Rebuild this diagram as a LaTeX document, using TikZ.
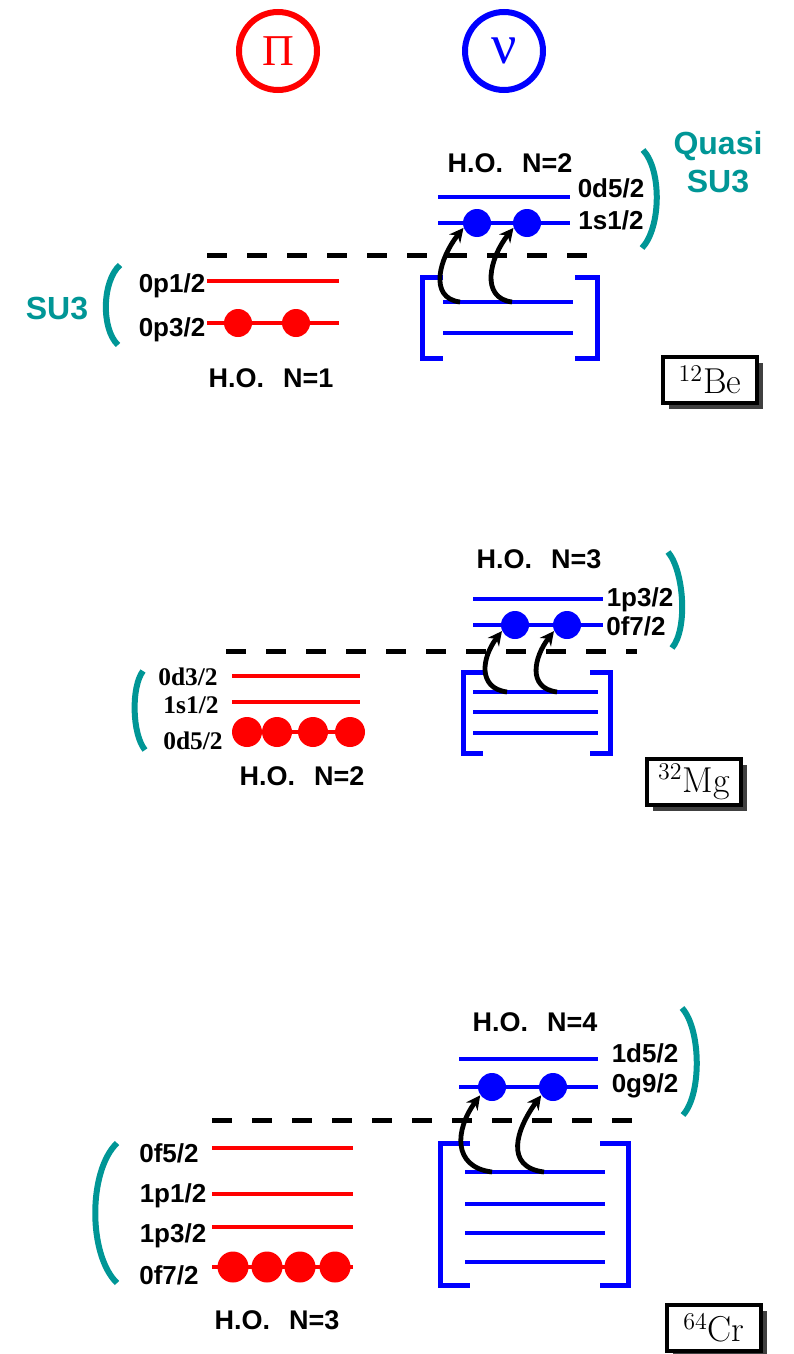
\documentclass[tikz,border=0pt]{standalone}
\usepackage{fontspec}
\newfontfamily\labfont{Liberation Sans}
\newfontfamily\timesfont{Liberation Serif}
\usetikzlibrary{arrows.meta,shadows}
\definecolor{suteal}{RGB}{0,150,150}

\begin{document}
\begin{tikzpicture}[x=0.5pt, y=-0.5pt,
		lvl/.style={line width=2pt},
		plvl/.style={lvl, red},
		nlvl/.style={lvl, blue},
		corelvl/.style={blue, line width=2.5pt},
		fermiline/.style={black, line width=2.5pt, dash pattern=on 10pt off 10pt},
		subshell/.style={suteal, line width=3pt},
		orb/.style={font=\labfont\bfseries\fontsize{13}{13}\selectfont, inner sep=0pt},
		orbserif/.style={font=\timesfont\bfseries\fontsize{12.7}{13}\selectfont, inner sep=0pt},
		holabel/.style={font=\labfont\bfseries\fontsize{13.5}{13.5}\selectfont, inner sep=0pt},
		sulabel/.style={font=\labfont\bfseries\fontsize{16}{19}\selectfont, text=suteal, inner sep=0pt, align=center},
		pdot/.style={circle, fill=red, inner sep=0pt, minimum size=14pt},
		ndot/.style={circle, fill=blue, inner sep=0pt, minimum size=14pt},
		hop/.style={-{Stealth[length=7pt, width=7pt]}, line width=2.4pt},
		nucbox/.style={draw, line width=1.7pt, fill=white, minimum width=47pt, minimum height=23pt, inner sep=0pt,
			font=\fontsize{18}{18}\selectfont, drop shadow={shadow xshift=3pt, shadow yshift=-3pt, fill=black!75, opacity=1}},
		isospin/.style={circle, line width=3pt, minimum size=39pt, inner sep=0pt}]
	\useasboundingbox (0,0) rectangle (793,1354);
	
	% proton / neutron heads
	\node[isospin, draw=red, text=red] (pi) at (278,51) {\timesfont\fontsize{22}{22}\selectfont Π};
	\node[isospin, draw=blue, text=blue] (nu) at (504,51) {\timesfont\fontsize{28}{28}\selectfont ν};
	
	% ---------- 12Be ----------
	\draw[fermiline] (207,255) -- (605,255);
	% protons
	\draw[plvl] (207,281) -- (339,281);
	\draw[plvl] (207,323) -- (339,323);
	\node[orb] (pa1) at (172,286) {0p1/2};
	\node[orb] (pb1) at (172,330) {0p3/2};
	\foreach \x [count=\i] in {238,296}
		\node[pdot] (pd1\i) at (\x,323) {};
	\node[holabel] (hop1) at (271,378) {H.O.\hspace{0.7em}N=1};
	\draw[subshell] (120,265) .. controls (102,281) and (101,329) .. (118,345);
	\node[sulabel] (su1) at (57,309) {SU3};
	% neutrons
	\draw[nlvl] (438,197) -- (570,197);
	\draw[nlvl] (438,223) -- (570,223);
	\node[orb] (na1) at (611,188) {0d5/2};
	\node[orb] (nb1) at (611,220) {1s1/2};
	\foreach \x [count=\i] in {477,527}
		\node[ndot] (nd1\i) at (\x,223) {};
	\node[holabel] (hon1) at (510,163) {H.O.\hspace{0.7em}N=2};
	\draw[corelvl] (443,277) -- (422,277) -- (422,358) -- (443,358);
	\draw[corelvl] (575,277) -- (597,277) -- (597,358) -- (575,358);
	\foreach \y in {302,333}
		\draw[nlvl] (443,\y) -- (573,\y);
	\coordinate (c11) at (460,302);
	\coordinate (c12) at (512,302);
	\foreach \i in {1,2}
		\draw[hop] (c1\i) .. controls +(-32,-4) and +(-24,30) .. (nd1\i.200);
	\draw[subshell] (643,150) .. controls (662,170) and (661,228) .. (642,248);
	\node[sulabel] (qsu1) at (718,162) {Quasi\\SU3};
	\node[nucbox] (be) at (710,380) {$^{12}$Be};
	
	% ---------- 32Mg ----------
	\draw[fermiline] (226,651) -- (637,651);
	% protons
	\foreach \y in {676,702,732}
		\draw[plvl] (232,\y) -- (360,\y);
	\node[orbserif] (pa2) at (188,677) {0d3/2};
	\node[orbserif] (pb2) at (191,705) {1s1/2};
	\node[orbserif] (pc2) at (193,741) {0d5/2};
	\foreach \x [count=\i] in {247,277,313,350}
		\node[pdot, minimum size=15pt] (pd2\i) at (\x,732) {};
	\node[holabel] (hop2) at (302,776) {H.O.\hspace{0.7em}N=2};
	\draw[subshell] (143,671) .. controls (131,687) and (132,734) .. (145,750);
	% neutrons
	\draw[nlvl] (473,599) -- (603,599);
	\draw[nlvl] (473,625) -- (603,625);
	\node[orb] (na2) at (640,600) {1p3/2};
	\node[orb] (nb2) at (636,626) {0f7/2};
	\foreach \x [count=\i] in {515,567}
		\node[ndot] (nd2\i) at (\x,625) {};
	\node[holabel] (hon2) at (539,559) {H.O.\hspace{0.7em}N=3};
	\draw[corelvl] (483,672) -- (463,672) -- (463,753) -- (483,753);
	\draw[corelvl] (590,672) -- (610,672) -- (610,753) -- (590,753);
	\foreach \y in {692,712,733}
		\draw[nlvl] (473,\y) -- (598,\y);
	\coordinate (c21) at (507,692);
	\coordinate (c22) at (557,692);
	\foreach \i in {1,2}
		\draw[hop] (c2\i) .. controls +(-30,-4) and +(-20,26) .. (nd2\i.205);
	\draw[subshell] (668,552) .. controls (684,571) and (688,629) .. (672,648);
	\node[nucbox] (mg) at (694,782) {$^{32}$Mg};
	
	% ---------- 64Cr ----------
	\draw[fermiline] (212,1120) -- (638,1120);
	% protons
	\foreach \y in {1148,1194,1227,1267}
		\draw[plvl] (212,\y) -- (353,\y);
	\node[orb] (pa3) at (169,1153) {0f5/2};
	\node[orb] (pb3) at (173,1196) {1p1/2};
	\node[orb] (pc3) at (173,1236) {1p3/2};
	\node[orb] (pe3) at (169,1275) {0f7/2};
	\foreach \x [count=\i] in {233,267,300,335}
		\node[pdot, minimum size=15.5pt] (pd3\i) at (\x,1267) {};
	\node[holabel] (hop3) at (277,1320) {H.O.\hspace{0.7em}N=3};
	\draw[subshell] (117,1143) .. controls (88,1171) and (88,1255) .. (117,1283);
	% neutrons
	\draw[nlvl] (459,1059) -- (598,1059);
	\draw[nlvl] (459,1087) -- (598,1087);
	\node[orb] (na3) at (645,1053) {1d5/2};
	\node[orb] (nb3) at (645,1086) {0g9/2};
	\foreach \x [count=\i] in {492,553}
		\node[ndot] (nd3\i) at (\x,1087) {};
	\node[holabel] (hon3) at (535,1022) {H.O.\hspace{0.7em}N=4};
	\draw[corelvl] (470,1143) -- (440,1143) -- (440,1285) -- (470,1285);
	\draw[corelvl] (600,1143) -- (628,1143) -- (628,1285) -- (600,1285);
	\foreach \y in {1172,1204,1233,1262}
		\draw[nlvl] (465,\y) -- (605,\y);
	\coordinate (c31) at (492,1172);
	\coordinate (c32) at (544,1172);
	\foreach \i in {1,2}
		\draw[hop] (c3\i) .. controls +(-40,-5) and +(-25,34) .. (nd3\i.215);
	\draw[subshell] (682,1008) .. controls (701,1029) and (702,1094) .. (683,1115);
	\node[nucbox] (cr) at (714,1328) {$^{64}$Cr};
	
\end{tikzpicture}
\end{document}
